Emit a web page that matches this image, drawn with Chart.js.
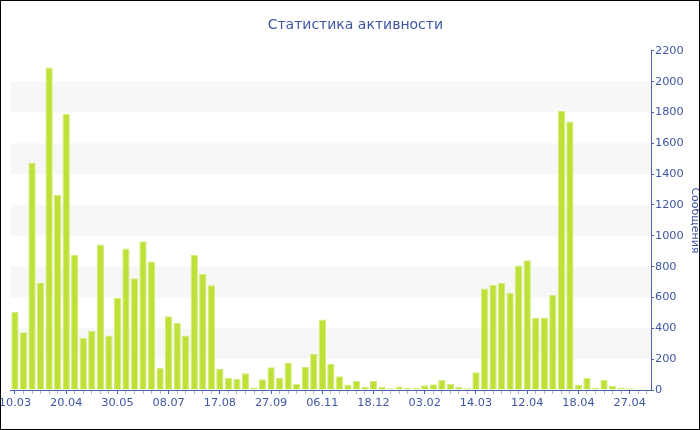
<!DOCTYPE html>
<html>
<head>
<meta charset="utf-8">
<title>Статистика активности</title>
<script src="https://cdn.jsdelivr.net/npm/chart.js@4.4.1/dist/chart.umd.min.js"></script>
<style>
    html, body { margin: 0; padding: 0; background: #fff; }
    #wrap { position: relative; width: 700px; height: 430px; }
    #chart { position: absolute; left: 0; top: 0; }
    #frame { position: absolute; left: 0; top: 0; width: 700px; height: 430px; box-sizing: border-box; border: 1px solid #000; pointer-events: none; }
</style>
</head>
<body>
<div id="wrap">
    <canvas id="chart" width="700" height="430"></canvas>
    <div id="frame"></div>
</div>
<script>
// one bar per week, a label every 6th bar
const tickLabels = ['10.03', '20.04', '30.05', '08.07', '17.08', '27.09', '06.11',
    '18.12', '03.02', '14.03', '12.04', '18.04', '27.04'];

const messageCounts = [
    508, 374, 1476, 698, 2092, 1264, 1790, 875, 339, 385,
    944, 354, 599, 918, 724, 964, 834, 145, 478, 434,
    354, 875, 754, 679, 138, 80, 73, 108, 17, 69,
    147, 78, 179, 41, 151, 233, 458, 169, 89, 35,
    58, 19, 58, 19, 11, 22, 17, 13, 30, 37,
    65, 41, 19, 11, 115, 659, 681, 696, 631, 808,
    841, 469, 471, 618, 1809, 1742, 35, 78, 15, 67,
    26, 17, 11, 6, 6
];

// shaded horizontal bands behind the bars
const bandRanges = [[200, 400], [600, 800], [1000, 1200], [1400, 1600], [1800, 2000]];

const labelEvery = 6;
const labels = messageCounts.map((_, i) => i % labelEvery === 0 ? tickLabels[i / labelEvery] : '');

const blue = '#3e56a3';
const axisBlue = '#4b63ad';
const minorGrey = '#b4b4b4';
const fontFamily = "'DejaVu Sans', Verdana, sans-serif";

const bandPlugin = {
    id: 'bands',
    beforeDatasetsDraw(chart) {
        const { ctx, chartArea, scales } = chart;
        ctx.save();
        ctx.fillStyle = '#f7f7f7';
        bandRanges.forEach(([from, to]) => {
            const yTop = scales.y.getPixelForValue(to);
            const yBottom = scales.y.getPixelForValue(from);
            ctx.fillRect(chartArea.left, yTop, chartArea.right - chartArea.left, yBottom - yTop);
        });
        ctx.restore();
    },
    // small grey minor ticks on the inner side of the value axis
    afterDraw(chart) {
        const { ctx, scales } = chart;
        const y = scales.y;
        ctx.save();
        ctx.strokeStyle = minorGrey;
        ctx.lineWidth = 1;
        y.ticks.forEach(t => {
            if (t.value % 200 === 0) return;
            const py = Math.round(y.getPixelForValue(t.value)) + 0.5;
            ctx.beginPath();
            ctx.moveTo(y.left - 2, py);
            ctx.lineTo(y.left, py);
            ctx.stroke();
        });
        ctx.restore();
    }
};

new Chart(document.getElementById('chart').getContext('2d'), {
    type: 'bar',
    data: {
        labels: labels,
        datasets: [{
            data: messageCounts,
            backgroundColor: '#bde137',
            borderColor: '#d4ec7c',
            borderWidth: 1,
            borderSkipped: 'start',
            barPercentage: 0.86,
            categoryPercentage: 1
        }]
    },
    options: {
        responsive: false,
        animation: false,
        layout: { padding: { left: 10.7, top: 0, right: 0, bottom: 0 } },
        plugins: {
            legend: { display: false },
            tooltip: { enabled: false },
            title: {
                display: true,
                text: 'Статистика активности',
                color: blue,
                font: { family: fontFamily, size: 14, weight: 'normal' },
                padding: { top: 17, bottom: 17 }
            }
        },
        scales: {
            x: {
                grid: {
                    drawOnChartArea: false,
                    offset: false,
                    tickLength: 4,
                    tickColor: c => c.index % labelEvery === 0 ? axisBlue : minorGrey
                },
                border: { color: axisBlue },
                ticks: {
                    autoSkip: false,
                    maxRotation: 0,
                    padding: 2,
                    color: blue,
                    font: { family: fontFamily, size: 11.3 },
                    callback: (value, index) => labels[index]
                },
                afterFit: scale => {
                    scale.height = 40;
                    scale.paddingLeft = 0;
                    scale.paddingRight = 0;
                }
            },
            y: {
                position: 'right',
                min: 0,
                max: 2200,
                grid: {
                    drawOnChartArea: false,
                    tickLength: 3,
                    tickColor: c => c.tick && c.tick.value % 200 === 0 ? axisBlue : 'rgba(0,0,0,0)'
                },
                border: { color: axisBlue },
                ticks: {
                    stepSize: 100,
                    padding: 1,
                    color: blue,
                    font: { family: fontFamily, size: 11.3 },
                    callback: value => value % 200 === 0 ? value : ''
                },
                title: {
                    display: true,
                    text: 'Сообщения',
                    color: blue,
                    font: { family: fontFamily, size: 11, lineHeight: 0.9 },
                    padding: 0
                },
                afterFit: scale => {
                    scale.width = 49;
                    scale.paddingTop = 0;
                    scale.paddingBottom = 0;
                }
            }
        }
    },
    plugins: [bandPlugin]
});
</script>
</body>
</html>
